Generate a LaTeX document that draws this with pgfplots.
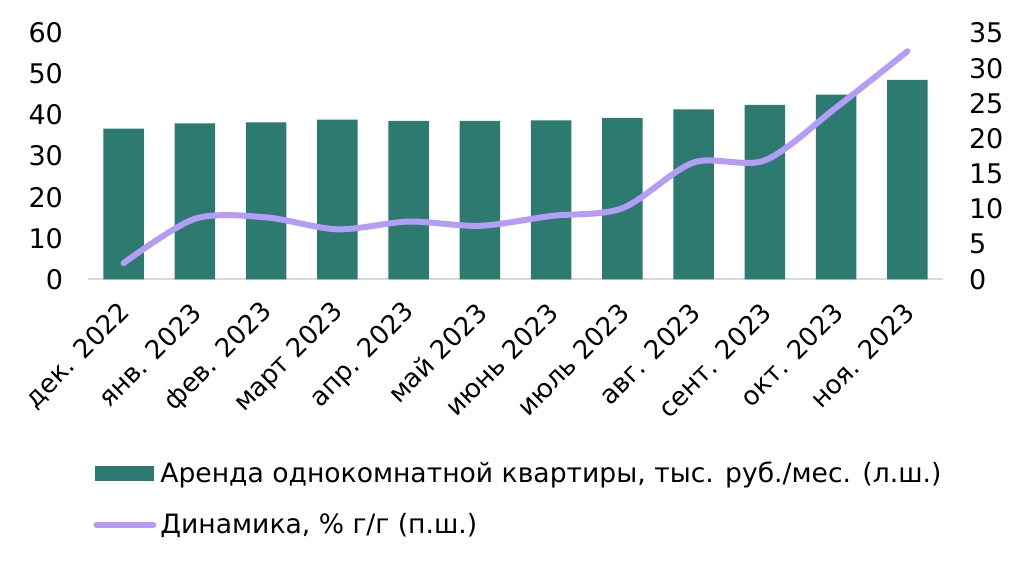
\documentclass[border=0pt]{standalone}
\usepackage{pgfplots}
\pgfplotsset{compat=1.18}
\usepackage{fontspec}
\setmainfont{DejaVu Sans}
\definecolor{barc}{HTML}{2D7A71}
\definecolor{linec}{HTML}{B59CF6}
\definecolor{axisgray}{HTML}{D9D9D9}

\begin{document}
\begin{tikzpicture}[font=\fontsize{13.5}{16}\selectfont]
\pgfplotsset{
  every axis/.append style={
    width=427.5pt, height=123.15pt, scale only axis,
    xmin=-0.5, xmax=11.5, at={(0,0)}, anchor=south west,
    /pgf/number format/assume math mode=true,
    tick style={draw=none},
    y axis line style={draw=none},
    font=\fontsize{13.5}{16}\selectfont,
  },
}
% bars, left axis
\begin{axis}[
  ymin=0, ymax=60, ytick={0,10,...,60},
  axis x line*=bottom, axis y line*=left,
  x axis line style={draw=axisgray, line width=1pt},
  yticklabel style={xshift=-9pt},
  xtick={0,...,11},
  xticklabels={дек. 2022, янв. 2023, фев. 2023, март 2023, апр. 2023, май 2023,
    июнь 2023, июль 2023, авг. 2023, сент. 2023, окт. 2023, ноя. 2023},
  xticklabel style={xshift=3.5pt, yshift=-11.8pt, rotate=45, anchor=east,
    font=\fontsize{13}{15.5}\selectfont},
  legend style={at={(0,0)}, anchor=north west, xshift=2.5pt, yshift=-89pt,
    draw=none, fill=none, inner sep=0pt, row sep=10pt,
    font=\fontsize{13.3}{16}\selectfont},
  legend cell align=left,
]
\addplot[ybar, bar width=20.25pt, fill=barc, draw=none,
  legend image code/.code={\fill[barc] (0pt,-3.75pt) rectangle (29.5pt,3.75pt);}]
  coordinates {
  (0,36.7) (1,38.0) (2,38.2) (3,38.9) (4,38.6) (5,38.6)
  (6,38.7) (7,39.3) (8,41.4) (9,42.5) (10,45.0) (11,48.6)
};
\addlegendentry{Аренда однокомнатной квартиры, тыс. руб./мес. (л.ш.)}
\addlegendimage{linec, line width=3pt, line cap=round,
  legend image code/.code={\draw[linec, line width=3pt, line cap=round] (0.5pt,0pt) -- (29pt,0pt);}}
\addlegendentry{Динамика, \% г/г (п.ш.)}
\end{axis}
% line, right axis
\begin{axis}[
  ymin=0, ymax=35, ytick={0,5,...,35},
  axis y line*=right, axis x line=none,
  yticklabel style={xshift=9.5pt},
  xtick=\empty,
]
\addplot[linec, line width=3pt, line cap=round, smooth, tension=0.5] coordinates {
  (0,2.3) (1,8.6) (2,8.8) (3,7.1) (4,8.2) (5,7.6)
  (6,9.0) (7,10.1) (8,16.6) (9,16.9) (10,24.4) (11,32.4)
};
\end{axis}
\pgfresetboundingbox
\path (-44pt,-141.35pt) rectangle (468pt,139.65pt);
\end{tikzpicture}
\end{document}
